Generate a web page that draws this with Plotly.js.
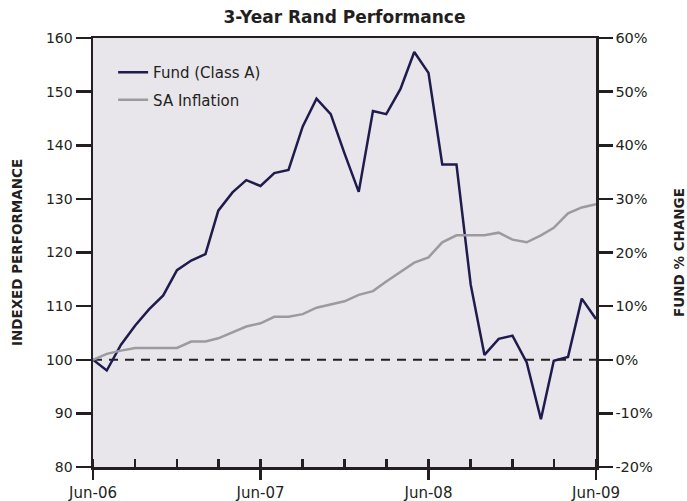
<!DOCTYPE html>
<html>
<head>
<meta charset="utf-8">
<script src="https://cdn.plot.ly/plotly-3.0.1.min.js"></script>
<style>html,body{margin:0;padding:0;background:#fff;}#chart{width:687px;height:501px;}</style>
</head>
<body>
<div id="chart"></div>
<script>
// Monthly dates Jun-06 .. Jun-09
var months = ['2006-06-01','2006-07-01','2006-08-01','2006-09-01','2006-10-01','2006-11-01','2006-12-01',
  '2007-01-01','2007-02-01','2007-03-01','2007-04-01','2007-05-01','2007-06-01','2007-07-01','2007-08-01',
  '2007-09-01','2007-10-01','2007-11-01','2007-12-01','2008-01-01','2008-02-01','2008-03-01','2008-04-01',
  '2008-05-01','2008-06-01','2008-07-01','2008-08-01','2008-09-01','2008-10-01','2008-11-01','2008-12-01',
  '2009-01-01','2009-02-01','2009-03-01','2009-04-01','2009-05-01','2009-06-01'];

var fund = [100, 98.0, 102.8, 106.4, 109.4, 112.0, 116.7, 118.5, 119.7, 127.8, 131.2, 133.5, 132.4,
  134.8, 135.4, 143.5, 148.7, 145.8, 138.5, 131.3, 146.4, 145.8, 150.5, 157.4, 153.5, 136.4, 136.4,
  114.0, 100.9, 103.9, 104.5, 99.5, 88.9, 99.8, 100.5, 111.4, 107.6];

var inflation = [100, 101.1, 101.7, 102.2, 102.2, 102.2, 102.2, 103.4, 103.4, 104.0, 105.1, 106.2, 106.8,
  108.0, 108.0, 108.5, 109.7, 110.3, 110.9, 112.1, 112.8, 114.6, 116.3, 118.1, 119.1, 121.9, 123.2,
  123.2, 123.2, 123.7, 122.4, 121.9, 123.2, 124.6, 127.3, 128.4, 129.0];

var baseline = 100;
var fundPct = fund.map(function(v){ return v - baseline; });

var pctTickVals = [-20, -10, 0, 10, 20, 30, 40, 50, 60];
var pctTickText = ['-20%', '-10%', '0%', '10%', '20%', '30%', '40%', '50%', '60%'];

var seriesNames = ['Fund (Class A)', 'SA Inflation'];
var titleText = '3-Year Rand Performance';
var leftTitle = 'INDEXED PERFORMANCE';
var rightTitle = 'FUND % CHANGE';

var FONT = 'DejaVu Sans, Verdana, sans-serif';
var AX = '#231f20';

var traces = [
  {x: months, y: fund, name: seriesNames[0], legendgroup: 'a', type: 'scatter', mode: 'lines',
   line: {color: '#1f1c4d', width: 2.5}, hoverinfo: 'skip'},
  {x: months, y: inflation, name: seriesNames[1], legendgroup: 'b', type: 'scatter', mode: 'lines',
   line: {color: '#9b9b9d', width: 2.5}, hoverinfo: 'skip'},
  {x: months, y: fundPct, yaxis: 'y2', type: 'scatter', mode: 'lines', showlegend: false,
   line: {color: 'rgba(0,0,0,0)', width: 0}, hoverinfo: 'skip'}
];

var layout = {
  width: 687, height: 501,
  margin: {l: 93, r: 91, t: 38, b: 34},
  paper_bgcolor: '#ffffff',
  plot_bgcolor: '#e8e6eb',
  font: {family: FONT, size: 14, color: '#231f20'},
  title: {text: '<b>' + titleText + '</b>', font: {family: FONT, size: 17, color: '#231f20'},
          x: 0.5, xref: 'paper', y: 0.965, yanchor: 'middle'},
  showlegend: true,
  legend: {x: 0.04, y: 0.958, xanchor: 'left', yanchor: 'top', bgcolor: 'rgba(0,0,0,0)',
           font: {family: FONT, size: 15, color: '#231f20'}, tracegroupgap: 5, itemwidth: 30},
  xaxis: {
    type: 'date',
    range: ['2006-06-01', '2009-06-01'],
    tick0: '2006-06-01', dtick: 'M12', tickformat: '%b-%y',
    ticks: 'outside', ticklen: 10, tickwidth: 2.5, tickcolor: AX,
    minor: {dtick: 'M3', tick0: '2006-06-01', ticks: 'inside', ticklen: 8, tickwidth: 2.5, tickcolor: AX, showgrid: false},
    showline: true, linecolor: AX, linewidth: 2.5, mirror: true,
    showgrid: false, zeroline: false,
    tickfont: {family: FONT, size: 15, color: '#231f20'}
  },
  yaxis: {
    range: [80, 160], dtick: 10, tick0: 80,
    ticks: 'outside', ticklen: 15, tickwidth: 2.5, tickcolor: AX,
    showline: true, linecolor: AX, linewidth: 2.5,
    showgrid: false, zeroline: false,
    tickfont: {family: FONT, size: 14, color: '#231f20'},
    title: {text: '<b>' + leftTitle + '</b>', font: {family: FONT, size: 13.5, color: '#231f20'}, standoff: 20}
  },
  yaxis2: {
    overlaying: 'y', side: 'right',
    range: [-20, 60], tickmode: 'array', tickvals: pctTickVals, ticktext: pctTickText,
    ticks: 'outside', ticklen: 14, tickwidth: 2.5, tickcolor: AX,
    showline: true, linecolor: AX, linewidth: 2.5,
    showgrid: false, zeroline: false,
    tickfont: {family: FONT, size: 14.5, color: '#231f20'},
    title: {text: '<b>' + rightTitle + '</b>', font: {family: FONT, size: 13.5, color: '#231f20'}, standoff: 23}
  },
  shapes: [{
    type: 'line', xref: 'paper', x0: 0, x1: 1, yref: 'y', y0: baseline, y1: baseline,
    line: {color: '#231f20', width: 2, dash: '9px,7px'}, layer: 'below'
  }]
};

Plotly.newPlot('chart', traces, layout, {displayModeBar: false, staticPlot: true});
</script>
</body>
</html>
